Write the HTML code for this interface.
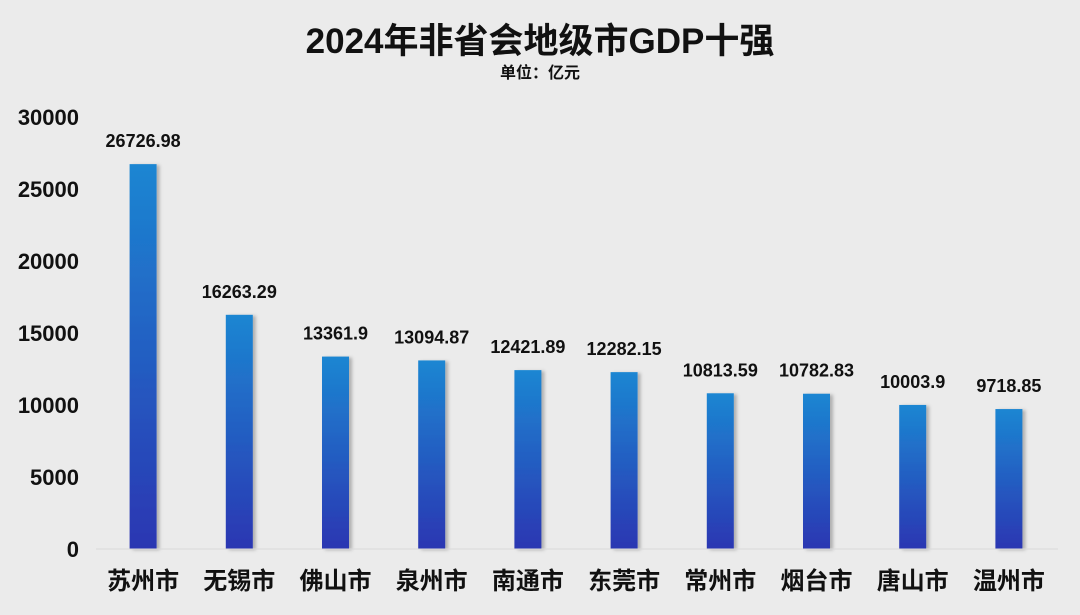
<!DOCTYPE html>
<html><head><meta charset="utf-8"><style>
html,body{margin:0;padding:0;background:#ebebeb;}
svg{display:block;font-family:"Liberation Sans","Noto Sans CJK SC",sans-serif;}
</style></head><body>
<svg id="chart" width="1080" height="615" viewBox="0 0 1080 615">
<defs>
<linearGradient id="bg" x1="0" y1="0" x2="0" y2="1">
<stop offset="0" stop-color="#1c86d2"/><stop offset="1" stop-color="#2b36b2"/>
</linearGradient>
<filter id="sh" x="-30%" y="-5%" width="160%" height="110%"><feDropShadow dx="3" dy="1" stdDeviation="1.5" flood-color="#000" flood-opacity="0.25"/></filter>
</defs>
<rect x="0" y="0" width="1080" height="615" fill="#ebebeb"/>
<text x="540" y="53" text-anchor="middle" font-size="35" font-weight="bold" fill="#111">2024年非省会地级市GDP十强</text>
<text x="540" y="78" text-anchor="middle" font-size="16" font-weight="bold" fill="#111">单位：亿元</text>
<g id="yaxis"></g>
<g id="bars"></g>
<line x1="96" y1="549" x2="1058" y2="549" stroke="#d9d9d9" stroke-width="1"/>
<g id="xaxis"></g>
</svg>
<script>
const categories=["苏州市","无锡市","佛山市","泉州市","南通市","东莞市","常州市","烟台市","唐山市","温州市"];
const values=[26726.98,16263.29,13361.9,13094.87,12421.89,12282.15,10813.59,10782.83,10003.9,9718.85];
const labels=["26726.98","16263.29","13361.9","13094.87","12421.89","12282.15","10813.59","10782.83","10003.9","9718.85"];
const yTicks=[0,5000,10000,15000,20000,25000,30000];
const NS="http://www.w3.org/2000/svg";
const y0=549,yTop=117,yMax=30000,left=95,step=96.2,bw=27;
function yS(v){return y0-(v/yMax)*(y0-yTop);}
function xC(i){return left+step*(i+0.5);}
function mk(t,a,p){const e=document.createElementNS(NS,t);for(const k in a)e.setAttribute(k,a[k]);p.appendChild(e);return e;}
const ya=document.getElementById('yaxis'),bars=document.getElementById('bars'),xa=document.getElementById('xaxis');
yTicks.forEach(t=>{
const e=mk('text',{x:79,y:yS(t)+8,'text-anchor':'end','font-size':22,'font-weight':'bold',fill:'#111'},ya);


e.textContent=t;
});
values.forEach((v,i)=>{
const r=mk('rect',{x:xC(i)-bw/2,y:yS(v),width:bw,height:y0-yS(v),fill:'url(#bg)',filter:'url(#sh)'},bars);


const l=mk('text',{x:xC(i),y:yS(v)-17,'text-anchor':'middle','font-size':18,'font-weight':'bold',fill:'#111'},bars);


l.textContent=labels[i];
const c=mk('text',{x:xC(i),y:589,'text-anchor':'middle','font-size':24,'font-weight':'bold',fill:'#111'},xa);


c.textContent=categories[i];
});
</script>
</body></html>
